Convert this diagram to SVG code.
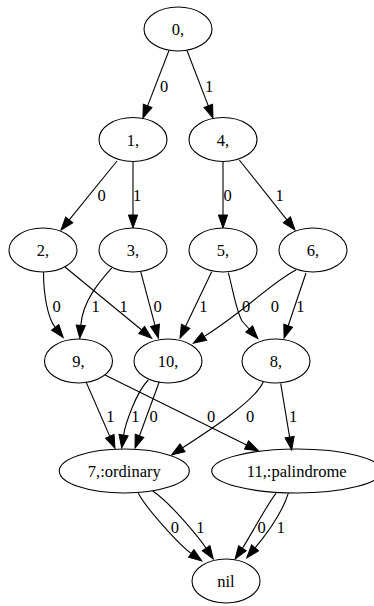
<svg xmlns="http://www.w3.org/2000/svg" width="374" height="606" viewBox="0 0 374 606" font-family="Liberation Serif, Times New Roman, DejaVu Serif, serif">
<defs>
<style>
.node ellipse{fill:none;stroke:#000;stroke-width:1.1}
text{font-family:'Liberation Serif','Times New Roman','DejaVu Serif',serif;font-size:16.5px;text-anchor:middle;fill:#000}
.edges path{fill:none;stroke:#000;stroke-width:1.1;marker-end:url(#arr)}
</style>
<marker id="arr" markerUnits="userSpaceOnUse" markerWidth="15" markerHeight="11" viewBox="0 -5.5 15 11" refX="0" refY="0" orient="auto" overflow="visible">
<path d="M0,-4.6 L13,0 L0,4.6 Z" fill="#000" stroke="#000" stroke-width="1"/>
</marker>
</defs>
<rect width="374" height="606" fill="#fff"/>
<g class="edges" id="edges">
<path d="M169,50.5 L147.6,105.9"/><text x="164" y="91.5">0</text>
<path d="M187,50.5 L208.3,105.9"/><text x="209" y="91.5">1</text>
<path d="M117,161 L69.2,219.9"/><text x="101.5" y="201">0</text>
<path d="M133,161.5 L133,215"/><text x="137" y="201">1</text>
<path d="M223,161.5 L223,215"/><text x="227.5" y="201">0</text>
<path d="M239.3,160 L286.9,219.8"/><text x="279.5" y="201">1</text>
<path d="M43.5,272 C43.5,295 47.8,318 55.2,327.4"/><text x="56.7" y="312">0</text>
<path d="M111.7,268 C101,280 82.8,300 80.8,325.3"/><text x="95.5" y="312">1</text>
<path d="M65,267 L141.7,330"/><text x="123.5" y="312">1</text>
<path d="M140.7,271.7 L155,325.4"/><text x="157.5" y="312">0</text>
<path d="M211.7,271.7 L185.6,326.3"/><text x="203.3" y="312">1</text>
<path d="M228.3,272.7 C233,290 236,310 242,321 L249.2,329"/><text x="246.2" y="312">0</text>
<path d="M296,270 C272,282 245,311 204.3,336.4"/><text x="274.8" y="312">0</text>
<path d="M306,273 L288.2,325.7"/><text x="300.3" y="312">1</text>
<path d="M86,381.7 L109.8,436.4"/><text x="110.3" y="422">1</text>
<path d="M105,375 L246.6,444.9"/><text x="211.2" y="422">0</text>
<path d="M148.3,380 C136,392 125.1,425 123.6,435.1"/><text x="135.3" y="422">1</text>
<path d="M159.3,381.7 L139.5,435.8"/><text x="153.5" y="422">0</text>
<path d="M263.3,381.7 C256,400 210,430 182.5,447.8"/><text x="250.2" y="422">0</text>
<path d="M280.7,383.3 L289.6,437.2"/><text x="293" y="422">1</text>
<path d="M138.3,493.3 C146,508 179,544.7 191.2,553.4"/><text x="174.8" y="533">0</text>
<path d="M152.7,491 C172,504 200.6,539.9 206.1,548.2"/><text x="200.3" y="533">1</text>
<path d="M276,493.3 C268,503 248,540 242.4,548.3"/><text x="261.7" y="533">0</text>
<path d="M288.3,493.3 C283,510 270,530 255.1,547.9"/><text x="280.8" y="533">1</text>
</g>
<g class="node" id="n0"><ellipse cx="178" cy="29" rx="34" ry="22"/><text x="178" y="35">0,</text></g>
<g class="node" id="n1"><ellipse cx="133" cy="139.5" rx="34" ry="22"/><text x="133" y="145.5">1,</text></g>
<g class="node" id="n4"><ellipse cx="223" cy="139.5" rx="34" ry="22"/><text x="223" y="145.5">4,</text></g>
<g class="node" id="n2"><ellipse cx="43" cy="250" rx="34" ry="22"/><text x="43" y="256">2,</text></g>
<g class="node" id="n3"><ellipse cx="133" cy="250" rx="34" ry="22"/><text x="133" y="256">3,</text></g>
<g class="node" id="n5"><ellipse cx="223" cy="250" rx="34" ry="22"/><text x="223" y="256">5,</text></g>
<g class="node" id="n6"><ellipse cx="313" cy="250" rx="34" ry="22"/><text x="313" y="256">6,</text></g>
<g class="node" id="n9"><ellipse cx="78.5" cy="361" rx="34" ry="22"/><text x="78.5" y="367">9,</text></g>
<g class="node" id="n10"><ellipse cx="168" cy="361" rx="34" ry="22"/><text x="168" y="367">10,</text></g>
<g class="node" id="n8"><ellipse cx="276" cy="361" rx="34" ry="22"/><text x="276" y="367">8,</text></g>
<g class="node" id="n7"><ellipse cx="124.3" cy="471" rx="65" ry="22"/><text x="124.3" y="477">7,:ordinary</text></g>
<g class="node" id="n11"><ellipse cx="296.7" cy="471" rx="85" ry="22"/><text x="296.7" y="477">11,:palindrome</text></g>
<g class="node" id="nnil"><ellipse cx="226" cy="581" rx="34" ry="22"/><text x="226" y="587">nil</text></g>
</svg>
